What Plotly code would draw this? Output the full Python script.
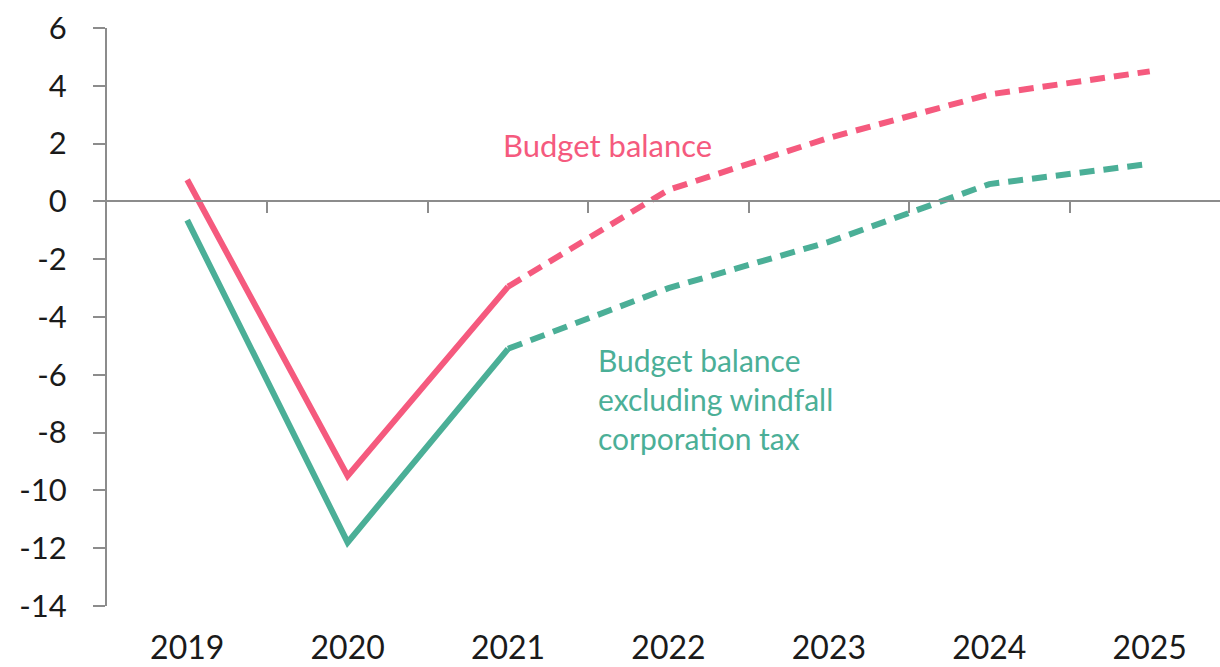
import plotly.graph_objects as go

# Budget balance, % of GDP (outturn to 2021, forecast afterwards)
years = ["2019", "2020", "2021", "2022", "2023", "2024", "2025"]
budget_balance = [0.75, -9.5, -2.95, 0.4, 2.2, 3.7, 4.5]
balance_ex_windfall = [-0.65, -11.8, -5.1, -3.0, -1.4, 0.6, 1.3]
y_ticks = [6, 4, 2, 0, -2, -4, -6, -8, -10, -12, -14]
last_outturn = 2  # index of 2021, where the forecast begins

PINK = "#F55A7E"
GREEN = "#4BAF97"
AXIS = "#8C8C8C"
FONT = "Lato"

xs = list(range(len(years)))
fig = go.Figure()


def add_series(values, color):
    # solid line for outturn, dashed for the forecast years
    fig.add_trace(go.Scatter(
        x=xs[: last_outturn + 1], y=values[: last_outturn + 1],
        mode="lines", line=dict(color=color, width=6), hoverinfo="skip",
        showlegend=False))
    fig.add_trace(go.Scatter(
        x=xs[last_outturn:], y=values[last_outturn:],
        mode="lines", line=dict(color=color, width=6, dash="15px,9px"),
        hoverinfo="skip", showlegend=False))


add_series(budget_balance, PINK)
add_series(balance_ex_windfall, GREEN)

x_range = [-0.5, 6.438]

fig.update_layout(
    width=1220, height=667,
    margin=dict(l=107, r=0, t=28, b=61),
    plot_bgcolor="white", paper_bgcolor="white",
    font=dict(family=FONT, color="#1a1a1a"),
    xaxis=dict(
        range=x_range, tickvals=xs, ticktext=years,
        showline=False, showgrid=False, zeroline=False, ticks="",
        tickfont=dict(size=32, family=FONT, color="#1a1a1a"),
        ticklabelstandoff=20, automargin=False,
    ),
    # category axis line drawn along zero, with ticks between years
    xaxis2=dict(
        overlaying="x", anchor="free", position=14 / 20, side="bottom",
        range=x_range, tickvals=[i + 0.5 for i in xs[:-1]],
        showticklabels=False, showline=True, linecolor=AXIS, linewidth=2,
        ticks="outside", ticklen=11, tickwidth=2, tickcolor=AXIS,
        showgrid=False, zeroline=False, automargin=False,
    ),
    yaxis=dict(
        range=[-14, 6], tickvals=y_ticks,
        ticktext=[str(v) for v in y_ticks],
        showline=True, linecolor=AXIS, linewidth=2,
        ticks="outside", ticklen=12, tickwidth=2, tickcolor=AXIS,
        showgrid=False, zeroline=False, automargin=False,
        tickfont=dict(size=31, family=FONT, color="#1a1a1a"),
        ticklabelstandoff=20,
    ),
)

# placeholder trace so xaxis2 is rendered
fig.add_trace(go.Scatter(x=[None], y=[None], xaxis="x2", showlegend=False,
                         hoverinfo="skip"))

fig.add_annotation(
    x=2.62, y=1.95, xref="x", yref="y", text="Budget balance",
    showarrow=False, font=dict(size=31, color=PINK, family=FONT),
    xanchor="center", yanchor="middle")

fig.add_annotation(
    x=2.55, y=-6.85, xref="x", yref="y",
    text="Budget balance<br>excluding windfall<br>corporation tax",
    showarrow=False, align="left",
    font=dict(size=30, color=GREEN, family=FONT),
    xanchor="left", yanchor="middle")

fig.write_html("out.html")
